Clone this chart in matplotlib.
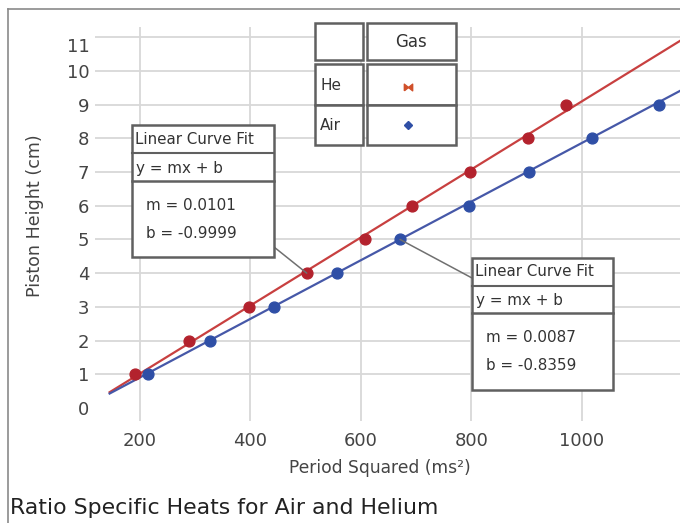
import numpy as np
import matplotlib
matplotlib.use("Agg")
import matplotlib.pyplot as plt
from matplotlib.patches import Rectangle, ConnectionPatch
from matplotlib.path import Path
import matplotlib.transforms as mtransforms

# ---------------- data ----------------
he_period_sq = [191, 289, 397, 502, 608, 692, 798, 902, 971]
he_height = [1, 2, 3, 4, 5, 6, 7, 8, 9]
air_period_sq = [215, 327, 442, 556, 671, 795, 905, 1019, 1140]
air_height = [1, 2, 3, 4, 5, 6, 7, 8, 9]
he_fit = (0.0101, -0.9999)
air_fit = (0.0087, -0.8359)
fit_x_start = 145
x_ticks = [200, 400, 600, 800, 1000]
y_ticks = [0, 1, 2, 3, 4, 5, 6, 7, 8, 9, 10, 11]
legend_rows = ["He", "Air"]
legend_header = "Gas"
title_text = "Ratio Specific Heats for Air and Helium"
xlabel_text = "Period Squared (ms²)"
ylabel_text = "Piston Height (cm)"

# ---------------- style ----------------
W, H = 680, 523
RED_PT = "#b3222d"
RED_LN = "#c84040"
BLUE_PT = "#2f4fa6"
BLUE_LN = "#4658a8"
BOX_EC = "#606060"
TXT = "#333333"

fig = plt.figure(figsize=(W / 100, H / 100), dpi=100)
fig.patch.set_facecolor("white")

ax_l, ax_r, ax_t, ax_b = 95, 680, 27, 421
ax = fig.add_axes([ax_l / W, 1 - ax_b / H, (ax_r - ax_l) / W, (ax_b - ax_t) / H])
ax.set_xlim(118.5, 1178)
ax.set_ylim(-0.39, 11.31)
for s in ax.spines.values():
    s.set_visible(False)
ax.set_xticks(x_ticks)
ax.set_yticks(y_ticks)
ax.tick_params(length=0, labelsize=13, labelcolor="#444444")
ax.tick_params(axis="y", pad=4)
ax.tick_params(axis="x", pad=8)
ax.grid(True, color="#d8d8d8", lw=1.3)
ax.set_axisbelow(True)
ax.yaxis.get_gridlines()[0].set_visible(False)
# top label sits slightly below its grid line, as in the reference
lab11 = ax.get_yticklabels()[-1]
lab11.set_transform(lab11.get_transform() + mtransforms.ScaledTranslation(0, -8 / 100, fig.dpi_scale_trans))

ax.set_xlabel(xlabel_text, fontsize=12.3, color="#444444")
ax.xaxis.set_label_coords((380 - ax_l) / (ax_r - ax_l), (ax_b - 468) / (ax_b - ax_t))
ax.xaxis.label.set_va("center")
ax.set_ylabel(ylabel_text, fontsize=12.6, color="#444444")
ax.yaxis.set_label_coords((35 - ax_l) / (ax_r - ax_l), (ax_b - 216) / (ax_b - ax_t))
ax.yaxis.label.set_va("center")

# fit lines
xl = np.array([fit_x_start, ax.get_xlim()[1]])
ax.plot(xl, he_fit[0] * xl + he_fit[1], color=RED_LN, lw=1.6, zorder=2)
ax.plot(xl, air_fit[0] * xl + air_fit[1], color=BLUE_LN, lw=1.6, zorder=2)
# points
ax.plot(he_period_sq, he_height, "o", color=RED_PT, ms=7.8, zorder=3)
ax.plot(air_period_sq, air_height, "o", color=BLUE_PT, ms=7.8, zorder=3)

# ---------------- overlay in pixel coordinates ----------------
ov = fig.add_axes([0, 0, 1, 1], zorder=5)
ov.set_xlim(0, W)
ov.set_ylim(H, 0)
ov.axis("off")
ov.patch.set_alpha(0)

# outer frame
ov.plot([8, W], [9, 9], color="#8a8a8a", lw=1.2)
ov.plot([8, 8], [9, H], color="#8a8a8a", lw=1.2)


def rect(x0, y0, x1, y1, lw=1.8):
    ov.add_patch(Rectangle((x0, y0), x1 - x0, y1 - y0, fc="white", ec=BOX_EC, lw=lw))


# legend table
rect(315, 23, 363, 60)
rect(367, 23, 456, 60)
rect(315, 64, 363, 105)
rect(315, 105, 363, 145)
rect(367, 64, 456, 105)
rect(367, 105, 456, 145)
ov.text(411, 42, legend_header, fontsize=12, color=TXT, ha="center", va="center")
ov.text(320, 85, legend_rows[0], fontsize=11, color=TXT, ha="left", va="center")
ov.text(320, 125, legend_rows[1], fontsize=11, color=TXT, ha="left", va="center")
bowtie = Path([(-1, -0.8), (-1, 0.8), (0, 0), (1, 0.8), (1, -0.8), (0, 0), (-1, -0.8)])
ov.plot([408], [87], marker=bowtie, color="#d0502a", ms=6, ls="none")
ov.plot([408], [125], marker="D", color=BLUE_PT, ms=4.5, ls="none")


def fit_box(x0, y0, y1, y2, y3, x1, m, b):
    rect(x0, y0, x1, y3)
    ov.plot([x0, x1], [y1, y1], color=BOX_EC, lw=1.5)
    ov.plot([x0, x1], [y2, y2], color=BOX_EC, lw=1.8)
    fs = 10.9
    ov.text(x0 + 3, (y0 + y1) / 2, "Linear Curve Fit", fontsize=fs, color=TXT, ha="left", va="center")
    ov.text(x0 + 4, (y1 + y2) / 2 + 1, "y = mx + b", fontsize=fs, color=TXT, ha="left", va="center")
    ov.text(x0 + 14, y2 + 25, f"m = {m:.4f}", fontsize=fs, color=TXT, ha="left", va="center")
    ov.text(x0 + 14, y2 + 53, f"b = {b:.4f}", fontsize=fs, color=TXT, ha="left", va="center")


fit_box(132, 125, 153, 181, 257, 274, *he_fit)
fit_box(472, 258, 286, 313, 390, 613, *air_fit)

# leader lines from boxes to data points
for xyA, xyB in [((274, 247), (he_period_sq[3], he_height[3])),
                 ((472, 278), (air_period_sq[4], air_height[4]))]:
    cp = ConnectionPatch(xyA=xyA, coordsA=ov.transData, xyB=xyB, coordsB=ax.transData,
                         color="#707070", lw=1.1, zorder=4)
    fig.add_artist(cp)

fig.text(10 / W, 1 - 508 / H, title_text, fontsize=15.8, color="#222222", ha="left", va="center")

fig.savefig("out.png", dpi=100)
